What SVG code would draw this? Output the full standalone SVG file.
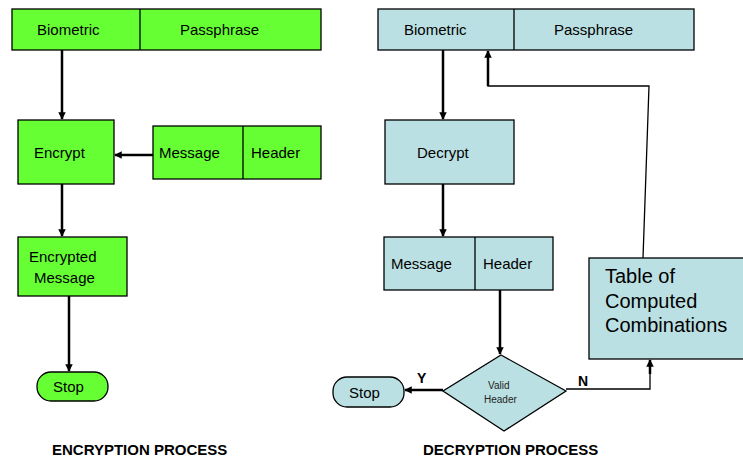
<svg xmlns="http://www.w3.org/2000/svg" width="743" height="458" viewBox="0 0 743 458">
<defs>
<style>
.g{fill:#66FF33;stroke:#000;stroke-width:1.3}
.b{fill:#BBE0E3;stroke:#000;stroke-width:1.3}
.t{font-family:"Liberation Sans",Arial,sans-serif;font-size:15px;fill:#000}
.s{font-family:"Liberation Sans",Arial,sans-serif;font-size:10px;fill:#222}
.L{font-family:"Liberation Sans",Arial,sans-serif;font-size:20px;fill:#000}
.h{font-family:"Liberation Sans",Arial,sans-serif;font-size:15px;font-weight:bold;fill:#000}
.yn{font-family:"Liberation Sans",Arial,sans-serif;font-size:14px;font-weight:bold;fill:#000}
.c{fill:none;stroke:#000;stroke-width:2.5}
.c1{fill:none;stroke:#000;stroke-width:1.3}
</style>
<marker id="ah" viewBox="0 0 10 10" refX="9" refY="5" markerWidth="3" markerHeight="3" orient="auto" markerUnits="strokeWidth">
<path d="M0,0 L10,5 L0,10 z" fill="#000"/>
</marker>
</defs>
<rect width="743" height="458" fill="#fff"/>

<g id="enc-key">
<rect class="g" x="12" y="9" width="309" height="41"/>
<line x1="140" y1="9" x2="140" y2="50" stroke="#000" stroke-width="1.3"/>
<text class="t" x="37" y="35">Biometric</text>
<text class="t" x="180" y="35">Passphrase</text>
</g>
<g id="encrypt">
<rect class="g" x="18" y="120" width="96" height="64"/>
<text class="t" x="34" y="158">Encrypt</text>
</g>
<g id="enc-msg">
<rect class="g" x="153" y="126" width="168" height="53"/>
<line x1="243" y1="126" x2="243" y2="179" stroke="#000" stroke-width="1.3"/>
<text class="t" x="159" y="158">Message</text>
<text class="t" x="251" y="158">Header</text>
</g>
<g id="enc-out">
<rect class="g" x="18" y="237" width="109" height="59"/>
<text class="t" x="29" y="262">Encrypted</text>
<text class="t" x="34" y="283">Message</text>
</g>
<g id="enc-stop">
<rect class="g" x="37" y="372" width="71" height="29" rx="14" ry="14"/>
<text class="t" x="53" y="392">Stop</text>
</g>
<text class="h" x="52" y="455">ENCRYPTION PROCESS</text>

<g id="dec-key">
<rect class="b" x="378" y="9" width="316" height="41"/>
<line x1="514" y1="9" x2="514" y2="50" stroke="#000" stroke-width="1.3"/>
<text class="t" x="404" y="35">Biometric</text>
<text class="t" x="554" y="35">Passphrase</text>
</g>
<g id="decrypt">
<rect class="b" x="385" y="120" width="129" height="64"/>
<text class="t" x="417" y="158">Decrypt</text>
</g>
<g id="dec-msg">
<rect class="b" x="384" y="237" width="169" height="53"/>
<line x1="475" y1="237" x2="475" y2="290" stroke="#000" stroke-width="1.3"/>
<text class="t" x="391" y="269">Message</text>
<text class="t" x="483" y="269">Header</text>
</g>
<g id="valid">
<polygon class="b" points="501,355 566,391 504,431 443,391"/>
<text class="s" x="488" y="389">Valid</text>
<text class="s" x="484" y="403">Header</text>
</g>
<g id="dec-stop">
<rect class="b" x="333" y="377" width="71" height="30" rx="14" ry="14"/>
<text class="t" x="349" y="398">Stop</text>
</g>
<g id="table">
<rect class="b" x="589" y="258" width="160" height="101"/>
<text class="L" x="605" y="283">Table of</text>
<text class="L" x="605" y="308">Computed</text>
<text class="L" x="605" y="332">Combinations</text>
</g>
<text class="h" x="423" y="455">DECRYPTION PROCESS</text>

<g id="connectors">
<line class="c" x1="62" y1="50" x2="62" y2="119" marker-end="url(#ah)"/>
<line class="c" x1="153" y1="155" x2="115" y2="155" marker-end="url(#ah)"/>
<line class="c" x1="62" y1="184" x2="62" y2="236" marker-end="url(#ah)"/>
<line class="c" x1="69" y1="296" x2="69" y2="371" marker-end="url(#ah)"/>

<line class="c" x1="443" y1="50" x2="443" y2="119" marker-end="url(#ah)"/>
<line class="c" x1="443" y1="184" x2="443" y2="236" marker-end="url(#ah)"/>
<line class="c" x1="500" y1="290" x2="500" y2="354" marker-end="url(#ah)"/>
<line class="c" x1="443" y1="390" x2="405" y2="390" marker-end="url(#ah)"/>
<polyline class="c1" points="566,389 650,389 650,372"/>
<line class="c" x1="650" y1="374" x2="650" y2="360" marker-end="url(#ah)"/>
<polyline class="c1" points="643,258 649,86 488,86 488,70"/>
<line class="c" x1="488" y1="86" x2="488" y2="51" marker-end="url(#ah)"/>
<text class="yn" x="417" y="383">Y</text>
<text class="yn" x="578" y="386">N</text>
</g>
</svg>
